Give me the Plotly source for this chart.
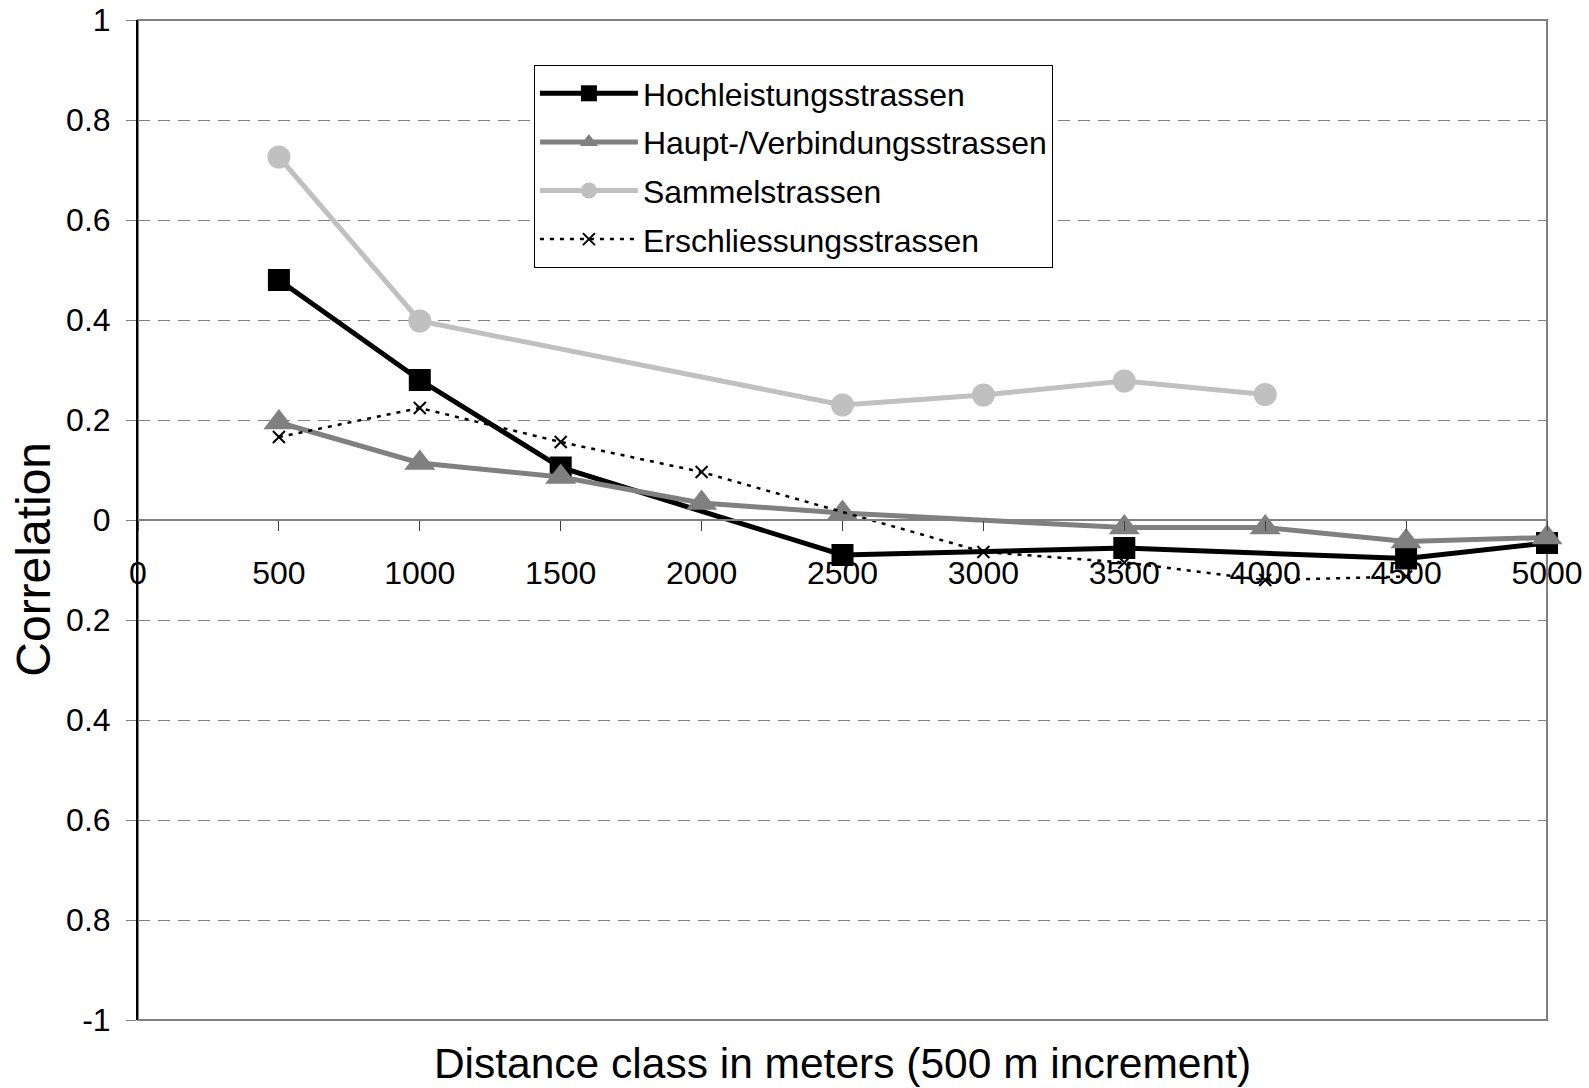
import plotly.graph_objects as go

# distance classes (m)
distance = [500, 1000, 1500, 2000, 2500, 3000, 3500, 4000, 4500, 5000]

# correlation per road class (None = no value for that distance class)
hochleistung = [0.48, 0.28, 0.105, None, -0.07, None, -0.056, None, -0.077, -0.046]
haupt_verbindung = [0.195, 0.114, 0.086, 0.034, 0.014, None, -0.015, -0.015, -0.043, -0.035]
sammel = [0.726, 0.398, None, None, 0.23, 0.25, 0.278, 0.251, None, None]
erschliessung = [0.166, 0.224, 0.156, 0.096, None, -0.064, -0.085, -0.12, -0.113, None]

y_ticks = [1, 0.8, 0.6, 0.4, 0.2, 0, -0.2, -0.4, -0.6, -0.8, -1]
y_tick_text = ["1", "0.8", "0.6", "0.4", "0.2", "0", "0.2", "0.4", "0.6", "0.8", "-1"]
x_ticks = [0, 500, 1000, 1500, 2000, 2500, 3000, 3500, 4000, 4500, 5000]

FONT = "Liberation Sans, Arial, sans-serif"

fig = go.Figure()

fig.add_trace(go.Scatter(
    x=distance, y=hochleistung, name="Hochleistungsstrassen", legendgroup="a",
    mode="lines+markers", connectgaps=True, cliponaxis=False,
    line=dict(color="#000000", width=5),
    marker=dict(symbol="square", size=22, color="#000000"),
))
fig.add_trace(go.Scatter(
    x=distance, y=haupt_verbindung, name="Haupt-/Verbindungsstrassen", legendgroup="b",
    mode="lines+markers", connectgaps=True, cliponaxis=False,
    line=dict(color="#808080", width=5),
    marker=dict(symbol="triangle-up", size=27, color="#808080"),
))
fig.add_trace(go.Scatter(
    x=distance, y=sammel, name="Sammelstrassen", legendgroup="c",
    mode="lines+markers", connectgaps=True, cliponaxis=False,
    line=dict(color="#C0C0C0", width=5),
    marker=dict(symbol="circle", size=23, color="#C0C0C0"),
))
fig.add_trace(go.Scatter(
    x=distance, y=erschliessung, name="Erschliessungsstrassen", legendgroup="d",
    mode="lines+markers", connectgaps=True, cliponaxis=False,
    line=dict(color="#000000", width=2.5, dash="4px,6px"),
    marker=dict(symbol="x-thin", size=12, color="#000000",
                line=dict(color="#000000", width=2)),
))

# plot-area frame in grey
fig.add_shape(type="rect", xref="x domain", yref="y domain",
              x0=0, x1=1, y0=0, y1=1,
              line=dict(color="#808080", width=2), layer="below")

# y-axis title, set slightly below the middle of the axis
fig.add_annotation(text="Correlation", xref="paper", yref="paper",
                   x=-0.074, y=0.461, xanchor="center", yanchor="middle",
                   textangle=-90, showarrow=False,
                   font=dict(family=FONT, size=48, color="#000000"))

fig.update_layout(
    width=1589, height=1088,
    margin=dict(l=138, r=42, t=20, b=68),
    paper_bgcolor="white", plot_bgcolor="white",
    font=dict(family=FONT, size=32, color="#000000"),
    showlegend=True,
    legend=dict(
        x=0.281, y=0.955, xanchor="left", yanchor="top",
        bgcolor="white", bordercolor="#000000", borderwidth=1,
        font=dict(family=FONT, size=32, color="#000000"),
        itemwidth=98, tracegroupgap=4,
    ),
    xaxis=dict(
        range=[0, 5000], anchor="free", position=0.5, automargin=False,
        tickmode="array", tickvals=x_ticks,
        showgrid=False, zeroline=False,
        showline=True, linecolor="#808080", linewidth=2,
        ticks="outside", ticklen=10, tickcolor="#404040", tickwidth=1,
        ticklabelstandoff=15,
        tickfont=dict(family=FONT, size=32),
        title=dict(text="Distance class in meters (500 m increment)",
                   font=dict(family=FONT, size=42.5), standoff=457),
    ),
    yaxis=dict(
        range=[-1, 1], tickmode="array", automargin=False,
        tickvals=y_ticks, ticktext=y_tick_text,
        showgrid=True, gridcolor="#808080", gridwidth=1, griddash="12px,8px",
        zeroline=False,
        showline=True, linecolor="#000000", linewidth=2,
        ticks="outside", ticklen=10, tickcolor="#808080", tickwidth=1,
        ticklabelstandoff=9,
        tickfont=dict(family=FONT, size=32),
    ),
)

fig.write_html("out.html")
